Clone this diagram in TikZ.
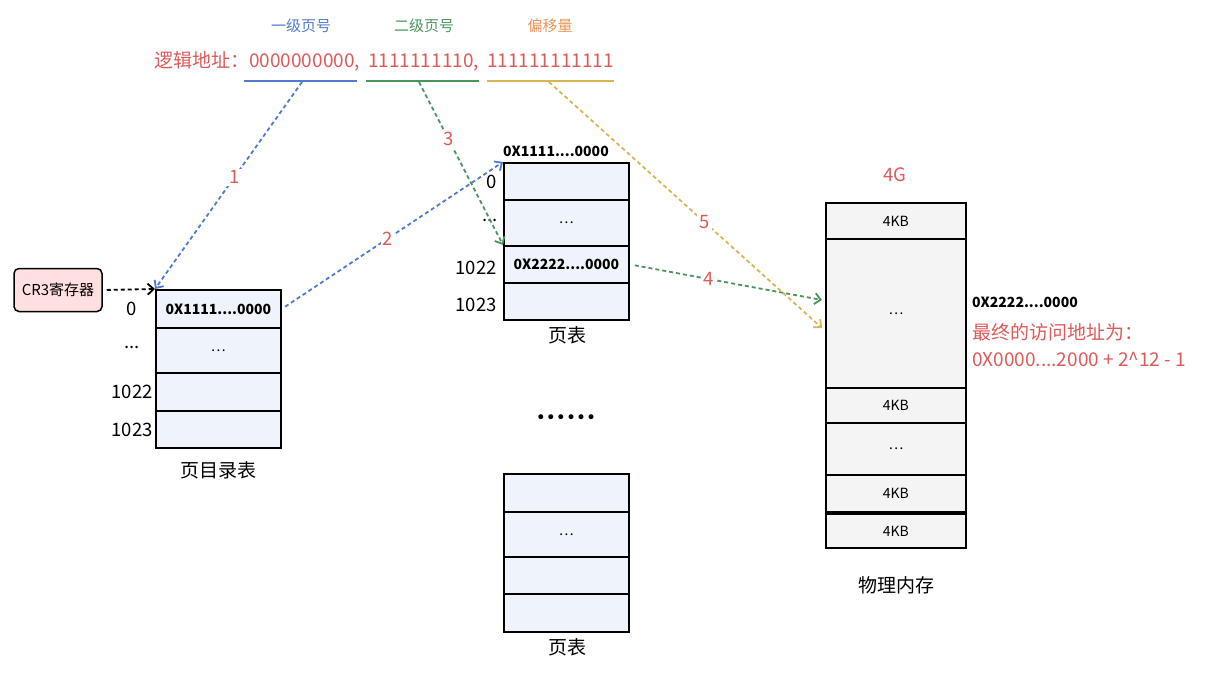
\documentclass[tikz,border=0pt]{standalone}
\usepackage{fontspec}
\setmainfont{Noto Sans CJK SC}
\newfontfamily\dotsfont{DejaVu Sans}
\usetikzlibrary{arrows.meta}

\definecolor{addrred}{HTML}{DC5A5A}
\definecolor{pnblue}{HTML}{4E7BCB}
\definecolor{pngreen}{HTML}{4A955C}
\definecolor{offgold}{HTML}{D8B455}
\definecolor{offorange}{HTML}{E5955A}
\definecolor{cellblue}{HTML}{EEF3FC}
\definecolor{cellgray}{HTML}{F4F4F4}
\definecolor{cr3pink}{HTML}{FFDFDF}

\tikzset{
  cell/.style={draw=black, line width=1.8pt, fill=cellblue, minimum width=125pt, inner sep=0pt, anchor=north west, font=\fontsize{14}{16}\selectfont\bfseries},
  memcell/.style={cell, fill=cellgray, minimum width=140pt, font=\fontsize{14}{16}\selectfont},
  idx/.style={font=\fontsize{18.5}{20}\selectfont, inner sep=0pt},
  caption/.style={font=\fontsize{19}{21}\selectfont, inner sep=0pt},
  addr/.style={font=\fontsize{19}{21}\selectfont, text=addrred, inner sep=0pt, anchor=base west},
  head/.style={font=\fontsize{15}{17}\selectfont, inner sep=0pt},
  uline/.style={line width=2pt},
  link/.style={line width=1.8pt, dash pattern=on 4pt off 3pt, -{Straight Barb[length=6pt,width=11pt]}},
  num/.style={font=\fontsize{18.5}{20}\selectfont, text=addrred, fill=white, inner sep=2pt},
}

\begin{document}
\begin{tikzpicture}[x=1pt,y=-1pt]
\useasboundingbox (0,0) rectangle (1209,681);
% logical address
\node[head, text=pnblue] (h1) at (301,26) {一级页号};
\node[head, text=pngreen] (h2) at (424,26) {二级页号};
\node[head, text=offorange] (h3) at (550,26) {偏移量};
\node[addr] (la) at (154,67) {逻辑地址：};
\node[addr] (pn1) at (249,67) {0000000000,};
\node[addr] (pn2) at (368,67) {1111111110,};
\node[addr] (off) at (487,67) {111111111111};
\draw[uline, pnblue] (244,81) -- (357,81);
\draw[uline, pngreen] (366,81) -- (479,81);
\draw[uline, offgold] (487,81) -- (614,81);
\coordinate (s1) at (302,82);
\coordinate (s2) at (419,82);
\coordinate (s3) at (549,82);

% CR3 and page directory
\node[draw=black, line width=1.5pt, fill=cr3pink, rounded corners=5pt, minimum width=88pt, minimum height=43pt, font=\fontsize{15}{17}\selectfont, inner sep=0pt] (cr3) at (58,290) {CR3寄存器};
\foreach \name/\y/\h/\txt in {pd1/289/38/{0X1111....0000}, pd2/327/45/{\mdseries …}, pd3/372/38/{}, pd4/410/37/{}}
  \node[cell, minimum height=\h, name=\name] at (155,\y) {\txt};
\foreach \name/\y/\txt in {pdi0/309/{0}, pdi1/347/{...}, pdi2/392/{1022}, pdi3/430/{1023}}
  \node[idx, name=\name] at (132,\y) {\txt};
\node[caption] (pdcap) at (218,470) {页目录表};
\draw[link, black, shorten <=4pt] (cr3.east) -- (pd1.north west);

% first page table
\node[font=\fontsize{14}{16}\selectfont\bfseries, inner sep=0pt] (pt1h) at (556,151) {0X1111....0000};
\foreach \name/\y/\h/\txt in {pt1/162/37/{}, pt2/199/46/{\mdseries …}, pt3/245/37/{0X2222....0000}, pt4/282/37/{}}
  \node[cell, minimum height=\h, name=\name] at (503,\y) {\txt};
\foreach \name/\x/\y/\txt in {pti0/492/182/{0}, pti1/490/220/{...}, pti2/476/268/{1022}, pti3/476/305/{1023}}
  \node[idx, name=\name] at (\x,\y) {\txt};
\node[caption] (ptcap) at (567,335) {页表};

\node[font=\dotsfont\fontsize{17}{19}\selectfont, inner sep=0pt] (more) at (566,419) {••••••};

% second page table
\foreach \name/\y/\h/\txt in {qt1/473/38/{}, qt2/511/45/{\mdseries …}, qt3/556/37/{}, qt4/593/38/{}}
  \node[cell, minimum height=\h, name=\name] at (503,\y) {\txt};
\node[caption] (qtcap) at (567,647) {页表};

% physical memory
\foreach \name/\y/\h/\txt in {mem1/202/36/{4KB}, mem2/238/149/{…}, mem3/387/35/{4KB}, mem4/422/52/{…}, mem5/474/37/{4KB}, mem6/513/34/{4KB}}
  \node[memcell, minimum height=\h, name=\name] at (825,\y) {\txt};
\node[font=\fontsize{18.5}{20}\selectfont, text=addrred, inner sep=0pt] (cap4g) at (895,175) {4G};
\node[caption] (memcap) at (896,585) {物理内存};
\node[font=\fontsize{14}{16}\selectfont\bfseries, inner sep=0pt, anchor=west] (pa) at (972,302) {0X2222....0000};
\node[font=\fontsize{19}{21}\selectfont, text=addrred, inner sep=0pt, anchor=west] (fin1) at (972,332) {最终的访问地址为：};
\node[font=\fontsize{19}{21}\selectfont, text=addrred, inner sep=0pt, anchor=west] (fin2) at (972,359) {0X0000....2000 + 2\textasciicircum 12 - 1};

% translation steps
\coordinate (e4) at (822,300);
\coordinate (e5) at (822,328);
\draw[link, pnblue] (s1) -- node[num, pos=0.46] (l1) {1} (pd1.north west);
\draw[link, pnblue, shorten <=4pt] (pd1.east) -- node[num, pos=0.48] (l2) {2} (pt1.north west);
\draw[link, pngreen] (s2) -- node[num, pos=0.35] (l3) {3} (pt3.north west);
\draw[link, pngreen, shorten <=5pt] (pt3.east) -- node[num, pos=0.41] (l4) {4} (e4);
\draw[link, offgold] (s3) -- node[num, pos=0.57] (l5) {5} (e5);
\end{tikzpicture}
\end{document}
